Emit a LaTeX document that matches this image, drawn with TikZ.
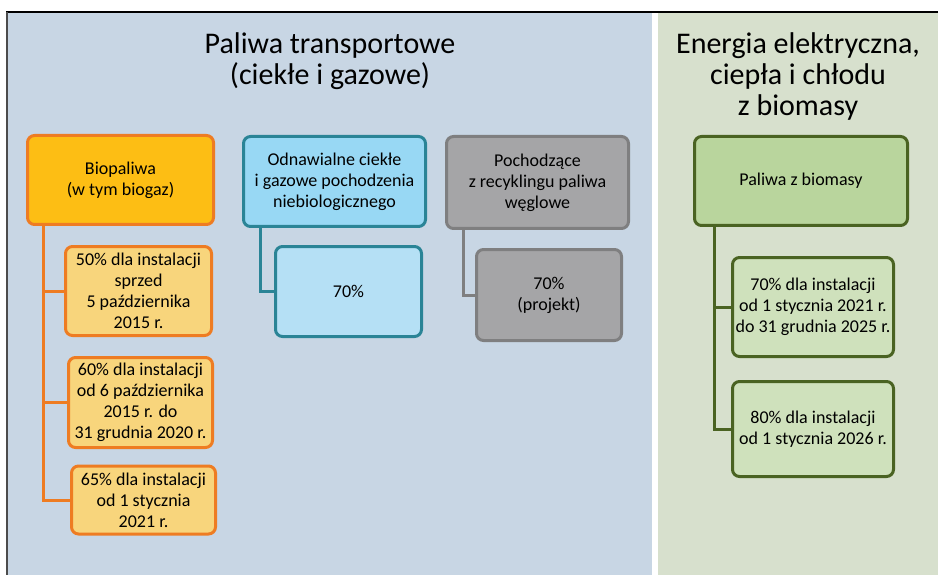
\documentclass[tikz,border=0pt]{standalone}
\usepackage{fontspec}
\setmainfont{Carlito}
\usetikzlibrary{positioning,calc}
\definecolor{leftbg}{HTML}{C8D6E4}
\definecolor{rightbg}{HTML}{D7E0CD}
\definecolor{bioline}{HTML}{EE7C22}
\definecolor{biofill}{HTML}{FDBE14}
\definecolor{biosub}{HTML}{F8D57C}
\definecolor{rfnline}{HTML}{2A8496}
\definecolor{rfnfill}{HTML}{98D8F4}
\definecolor{rfnsub}{HTML}{B5E0F5}
\definecolor{rcfline}{HTML}{7F7F80}
\definecolor{rcffill}{HTML}{A5A5A7}
\definecolor{biomline}{HTML}{4A6322}
\definecolor{biomfill}{HTML}{B9D59D}
\definecolor{biomsub}{HTML}{CFE1BC}
\tikzset{
  cbox/.style={draw, line width=3pt, rounded corners=7pt, align=center,
               font=\fontsize{18}{21}\selectfont, inner sep=1pt},
  biobox/.style={cbox, draw=bioline, fill=biofill},
  biosubbox/.style={cbox, draw=bioline, fill=biosub},
  rfnbox/.style={cbox, draw=rfnline, fill=rfnfill},
  rfnsubbox/.style={cbox, draw=rfnline, fill=rfnsub},
  rcfbox/.style={cbox, draw=rcfline, fill=rcffill},
  biombox/.style={cbox, draw=biomline, fill=biomfill},
  biomsubbox/.style={cbox, draw=biomline, fill=biomsub},
  title/.style={align=center, font=\fontsize{30}{31}\selectfont},
  link/.style={line width=3pt},
}

\begin{document}
\begin{tikzpicture}[x=1pt, y=-1pt]
  \useasboundingbox (0,0) rectangle (938,575);
  % panels
  \fill[leftbg] (7,12) rectangle (652,575);
  \fill[rightbg] (658,12) rectangle (938,575);
  \draw[black, line width=1.5pt] (6,12) -- (938,12);
  \draw[black!70, line width=2pt] (7,12) -- (7,575);

  \node[title] (tleft) at (330,61) {Paliwa transportowe\\(ciekłe i gazowe)};
  \node[title] (tright) at (798,77) {Energia elektryczna,\\ciepła i chłodu\\z biomasy};

  % biopaliwa
  \node[biobox, minimum width=186pt, minimum height=89pt] (bio) at (120.5,180)
    {Biopaliwa\\(w tym biogaz)};
  \node[biosubbox, minimum width=146pt, minimum height=89pt] (bio50) at (138.5,291)
    {50\% dla instalacji\\sprzed\\5 października\\2015 r.};
  \node[biosubbox, minimum width=144pt, minimum height=90pt] (bio60) at (140.5,402.5)
    {60\% dla instalacji\\od 6 października\\2015 r. do\\31 grudnia 2020 r.};
  \node[biosubbox, minimum width=144pt, minimum height=68pt] (bio65) at (143.5,500)
    {65\% dla instalacji\\od 1 stycznia\\2021 r.};

  % odnawialne niebiologiczne
  \node[rfnbox, minimum width=182pt, minimum height=90pt] (rfn) at (334.5,181.5)
    {Odnawialne ciekłe\\i gazowe pochodzenia\\niebiologicznego};
  \node[rfnsubbox, minimum width=146pt, minimum height=90pt] (rfn70) at (348.5,291.5)
    {70\%};

  % recykling
  \node[rcfbox, minimum width=182pt, minimum height=92pt] (rcf) at (537.5,182.5)
    {Pochodzące\\z recyklingu paliwa\\węglowe};
  \node[rcfbox, minimum width=145pt, minimum height=91pt] (rcf70) at (549,295)
    {70\%\\(projekt)};

  % biomasa
  \node[biombox, minimum width=213pt, minimum height=89pt] (biom) at (801,181)
    {Paliwa z biomasy};
  \node[biomsubbox, minimum width=161pt, minimum height=99pt] (biom70) at (813,307)
    {70\% dla instalacji\\od 1 stycznia 2021 r.\\do 31 grudnia 2025 r.};
  \node[biomsubbox, minimum width=161pt, minimum height=95pt] (biom80) at (813,429)
    {80\% dla instalacji\\od 1 stycznia 2026 r.};

  % links
  \draw[link, bioline] ([xshift=17.5pt]bio.south west) |- (bio65.west);
  \draw[link, bioline] ([xshift=17.5pt]bio.south west) |- (bio50.west);
  \draw[link, bioline] ([xshift=17.5pt]bio.south west) |- (bio60.west);
  \draw[link, rfnline] ([xshift=18.5pt]rfn.south west) |- (rfn70.west);
  \draw[link, rcfline] ([xshift=18.5pt]rcf.south west) |- (rcf70.west);
  \draw[link, biomline] ([xshift=21.5pt]biom.south west) |- (biom80.west);
  \draw[link, biomline] ([xshift=21.5pt]biom.south west) |- (biom70.west);
\end{tikzpicture}
\end{document}
